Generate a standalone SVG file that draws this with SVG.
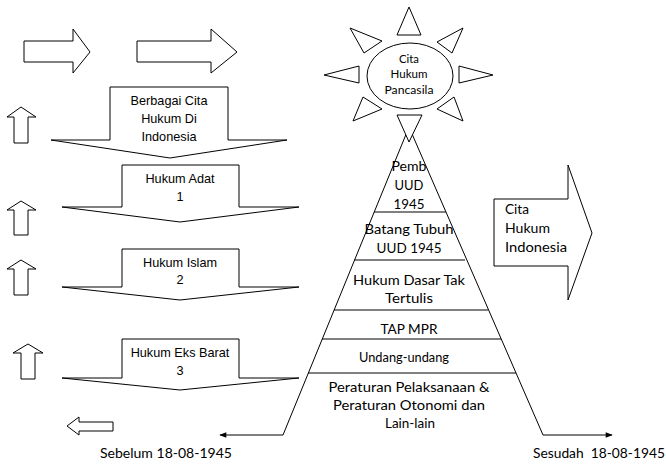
<svg xmlns="http://www.w3.org/2000/svg" width="666" height="464" viewBox="0 0 666 464">
<style>
.s{fill:#fff;stroke:#000;stroke-width:1}
.l{fill:none;stroke:#000;stroke-width:1}
.a{font-family:"Liberation Sans",Arial,sans-serif;font-size:12.7px;fill:#000;text-anchor:middle}
.c{font-family:Lato,"Open Sans",sans-serif;font-size:13.5px;fill:#000;text-anchor:middle}
.cs{font-family:Lato,"Open Sans",sans-serif;font-size:11px;fill:#000;text-anchor:middle}
.cl{font-family:Lato,"Open Sans",sans-serif;font-size:13.5px;fill:#000}
</style>
<defs>
<marker id="ah" viewBox="0 0 10 10" refX="9" refY="5" markerWidth="8" markerHeight="7" markerUnits="userSpaceOnUse" orient="auto">
<path d="M0,1 L10,5 L0,9 z" fill="#000"/>
</marker>
</defs>
<rect width="666" height="464" fill="#fff"/>

<g id="arrow-right-1"><polygon class="s" points="24,41 73,41 73,29 90,52 73,73 73,62 24,62"/></g>
<g id="arrow-right-2"><polygon class="s" points="137,41 211,41 211,29 237,52 211,73 211,62 137,62"/></g>

<g id="arrow-up-1"><polygon class="s" points="21,107 36,117 28,117 28,143 14,143 14,117 7,117"/></g>
<g id="arrow-up-2"><polygon class="s" points="21,201 36,210 28,210 28,235 14,235 14,210 7,210"/></g>
<g id="arrow-up-3"><polygon class="s" points="21,260 36,269 28,269 28,295 14,295 14,269 7,269"/></g>
<g id="arrow-up-4"><polygon class="s" points="28,344 43,353 35,353 35,379 21,379 21,353 13,353"/></g>
<g id="arrow-left"><polygon class="s" points="67,426 79,417 79,422 113,422 113,431 79,431 79,435"/></g>

<g id="berbagai">
<polygon class="s" points="110,87 228,87 228,140 287,140 170,158 51,140 110,140"/>
<text class="a" x="169" y="105">Berbagai Cita</text>
<text class="a" x="169" y="123">Hukum Di</text>
<text class="a" x="169" y="141">Indonesia</text>
</g>
<g id="adat">
<polygon class="s" points="122,165 239,165 239,207 299,207 180,222 62,207 122,207"/>
<text class="a" x="180" y="183">Hukum Adat</text>
<text class="a" x="180" y="201">1</text>
</g>
<g id="islam">
<polygon class="s" points="122,249 239,249 239,287 299,287 180,300 62,287 122,287"/>
<text class="a" x="180" y="267">Hukum Islam</text>
<text class="a" x="180" y="284">2</text>
</g>
<g id="barat">
<polygon class="s" points="122,339 239,339 239,378 299,378 180,390 62,378 122,378"/>
<text class="a" x="180" y="357">Hukum Eks Barat</text>
<text class="a" x="180" y="375">3</text>
</g>

<g id="connectors">
<polyline class="l" points="283,435 220,435" marker-end="url(#ah)"/>
<polyline class="l" points="543,435 612,435" marker-end="url(#ah)"/>
</g>

<g id="pyramid">
<polyline class="l" points="283,435 409,127 543,435"/>
<line class="l" x1="374" y1="212" x2="446" y2="212"/>
<line class="l" x1="354" y1="260" x2="465" y2="260"/>
<line class="l" x1="334" y1="310" x2="488" y2="310"/>
<line class="l" x1="322" y1="339" x2="501" y2="339"/>
<line class="l" x1="308" y1="373" x2="516" y2="373"/>
<text class="c" x="409" y="171" textLength="35" lengthAdjust="spacingAndGlyphs">Pemb</text>
<text class="c" x="409" y="190" textLength="29" lengthAdjust="spacingAndGlyphs">UUD</text>
<text class="c" x="409" y="209" textLength="31" lengthAdjust="spacingAndGlyphs">1945</text>
<text class="c" x="409" y="234" textLength="89" lengthAdjust="spacingAndGlyphs">Batang Tubuh</text>
<text class="c" x="409" y="253" textLength="65" lengthAdjust="spacingAndGlyphs">UUD 1945</text>
<text class="c" x="409" y="285" textLength="112" lengthAdjust="spacingAndGlyphs">Hukum Dasar Tak</text>
<text class="c" x="409" y="303" textLength="48" lengthAdjust="spacingAndGlyphs">Tertulis</text>
<text class="c" x="409" y="334" textLength="57" lengthAdjust="spacingAndGlyphs">TAP MPR</text>
<text class="c" x="404" y="362" textLength="90" lengthAdjust="spacingAndGlyphs">Undang-undang</text>
<text class="c" x="409" y="392" textLength="161" lengthAdjust="spacingAndGlyphs">Peraturan Pelaksanaan &amp;</text>
<text class="c" x="409" y="410" textLength="152" lengthAdjust="spacingAndGlyphs">Peraturan Otonomi dan</text>
<text class="c" x="410" y="428" textLength="50" lengthAdjust="spacingAndGlyphs">Lain-lain</text>
</g>

<g id="sun">
<polygon class="s" points="409,7 397,35 421,35"/>
<polygon class="s" points="350,28 382,41 364,53"/>
<polygon class="s" points="463,28 437,42 452,53"/>
<polygon class="s" points="324,75 359,66 359,83"/>
<polygon class="s" points="493,75 459,66 459,83"/>
<polygon class="s" points="363,97 382,109 353,121"/>
<polygon class="s" points="454,97 437,109 463,121"/>
<polygon class="s" points="397,115 422,115 409,142"/>
<ellipse class="s" cx="410" cy="76" rx="43" ry="33"/>
<text class="cs" x="409" y="63" textLength="20" lengthAdjust="spacingAndGlyphs">Cita</text>
<text class="cs" x="409" y="78" textLength="37" lengthAdjust="spacingAndGlyphs">Hukum</text>
<text class="cs" x="409" y="94" textLength="49" lengthAdjust="spacingAndGlyphs">Pancasila</text>
</g>

<g id="cita-indonesia">
<polygon class="s" points="494,199 568,199 568,165 592,233 568,300 568,266 494,266"/>
<text class="cl" x="505" y="214" textLength="24" lengthAdjust="spacingAndGlyphs">Cita</text>
<text class="cl" x="505" y="233" textLength="45" lengthAdjust="spacingAndGlyphs">Hukum</text>
<text class="cl" x="505" y="252" textLength="62" lengthAdjust="spacingAndGlyphs">Indonesia</text>
</g>

<text class="cl" x="100" y="458" textLength="132" lengthAdjust="spacingAndGlyphs">Sebelum 18-08-1945</text>
<text class="cl" x="533" y="458" xml:space="preserve" textLength="132" lengthAdjust="spacingAndGlyphs">Sesudah  18-08-1945</text>
</svg>
